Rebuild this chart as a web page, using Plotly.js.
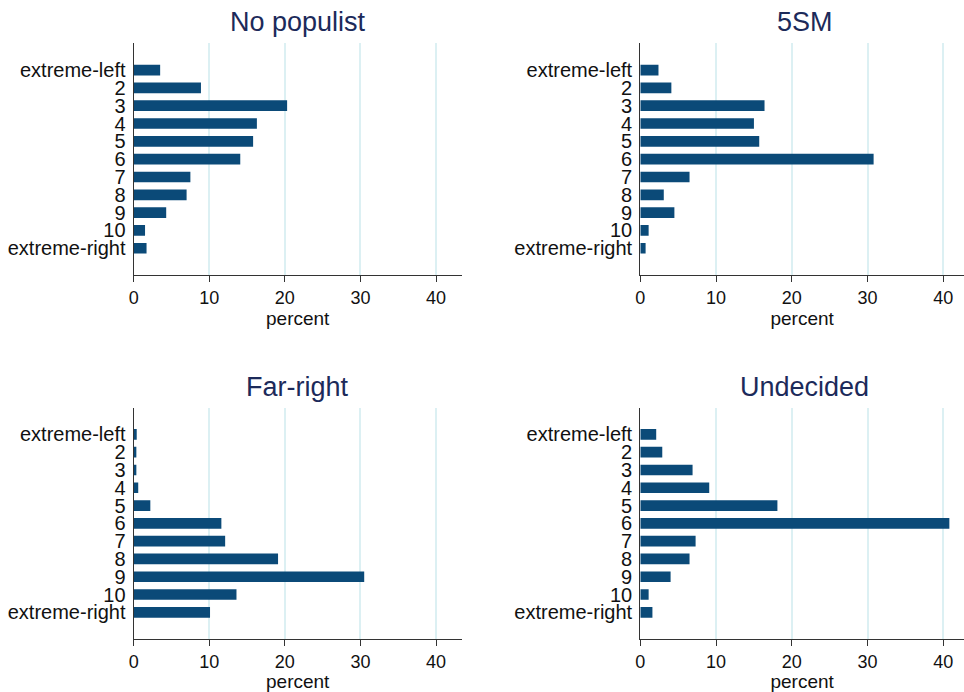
<!DOCTYPE html>
<html>
<head>
<meta charset="utf-8">
<script src="https://cdn.plot.ly/plotly-3.0.1.min.js"></script>
<style>html,body{margin:0;padding:0;background:#fff}#chart{width:964px;height:692px}</style>
</head>
<body>
<div id="chart"></div>
<script>
const categories = ["extreme-left","2","3","4","5","6","7","8","9","10","extreme-right"];
const panelTitles = ["No populist","5SM","Far-right","Undecided"];
const noPopulist = [3.5, 8.9, 20.3, 16.3, 15.8, 14.1, 7.5, 7.0, 4.3, 1.5, 1.7];
const fiveStar   = [2.4, 4.1, 16.4, 15.0, 15.7, 30.8, 6.5, 3.1, 4.5, 1.1, 0.7];
const farRight   = [0.4, 0.35, 0.35, 0.6, 2.2, 11.6, 12.1, 19.1, 30.5, 13.6, 10.1];
const undecided  = [2.1, 2.9, 6.9, 9.1, 18.1, 40.8, 7.3, 6.5, 4.0, 1.1, 1.6];
const xTickVals = [0, 10, 20, 30, 40];
const xAxisLabel = "percent";

const seriesList = [noPopulist, fiveStar, farRight, undecided];
const barColor = "#0b4a78";
const font = "Liberation Sans, Arial, sans-serif";

const W = 964, H = 692;
const xDomains = [[133.7/W, 461.7/W], [640.3/W, 1]];
const yDomains = [[1-275/H, 1-43.3/H], [1-639/H, 1-407.7/H]];
const xRanges = [[0, 43.4], [0, (W-640.3)/7.575]];

const traces = seriesList.map((vals, i) => ({
  type: "bar", orientation: "h",
  x: vals, y: categories,
  xaxis: i === 0 ? "x" : "x" + (i+1),
  yaxis: i === 0 ? "y" : "y" + (i+1),
  marker: {color: barColor, line: {width: 0}},
  width: 0.6,
  hoverinfo: "x+y", showlegend: false
}));

const layout = {
  width: W, height: H,
  margin: {l: 0, r: 0, t: 0, b: 0},
  paper_bgcolor: "#fff", plot_bgcolor: "#fff",
  font: {family: font, color: "#000"},
  bargap: 0.4,
  annotations: []
};

for (let i = 0; i < 4; i++) {
  const col = i % 2, row = Math.floor(i / 2);
  const sfx = i === 0 ? "" : String(i+1);
  layout["xaxis" + sfx] = {
    domain: xDomains[col], range: xRanges[col],
    anchor: "y" + sfx,
    tickmode: "array", tickvals: xTickVals, ticktext: xTickVals.map(String),
    ticks: "outside", ticklen: 6, tickwidth: 1.2, tickcolor: "#333",
    tickfont: {size: 18, family: font, color: "#111"},
    showline: true, linecolor: "#333", linewidth: 1.3,
    showgrid: true, gridcolor: "#dcf0f3", gridwidth: 2,
    zeroline: false, fixedrange: true,
    title: {text: xAxisLabel, font: {size: 19, family: font, color: "#111"}, standoff: 2}
  };
  layout["yaxis" + sfx] = {
    domain: yDomains[row], anchor: "x" + sfx,
    type: "category", categoryarray: categories, categoryorder: "array",
    tickmode: "array", tickvals: categories, ticktext: categories,
    range: [11.5, -1.5],
    ticks: "outside", ticklen: 3, tickcolor: "rgba(0,0,0,0)",
    tickfont: {size: 20, family: font, color: "#111"},
    showline: true, linecolor: "#333", linewidth: 1.3,
    showgrid: false, zeroline: false, fixedrange: true
  };
  const xcPix = col === 0 ? (133.7+461.7)/2 : (640.3 + 640.3 + 43.4*7.575)/2;
  layout.annotations.push({
    text: panelTitles[i], xref: "paper", yref: "paper",
    x: xcPix / W, y: row === 0 ? 1 - 22/H : 1 - 387/H,
    xanchor: "center", yanchor: "middle", showarrow: false,
    font: {size: 27, family: font, color: "#1c2a5a"}
  });
}

Plotly.newPlot("chart", traces, layout, {displayModeBar: false});
</script>
</body>
</html>
